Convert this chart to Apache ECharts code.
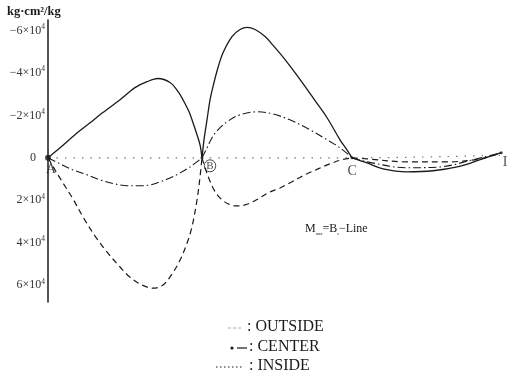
<!DOCTYPE html>
<html>
<head>
<meta charset="utf-8">
<script src="https://cdn.jsdelivr.net/npm/echarts@6/dist/echarts.min.js"></script>
<style>
  html, body { margin: 0; padding: 0; background: #fff; }
  #chart { width: 507px; height: 380px; }
</style>
</head>
<body>
<div id="chart"></div>
<script>
// Position along the member: A = 0, B = 1, C = 2, I = 3.
// Moment values in units of 10^4 kg·cm²/kg (negative plotted upward).

// Solid curve segments
const solidAB = [[0,0],[0.079,-0.47],[0.177,-1.09],[0.276,-1.65],[0.341,-2.03],[0.473,-2.74],[0.571,-3.31],[0.650,-3.59],[0.722,-3.74],[0.801,-3.55],[0.854,-3.12],[0.886,-2.74],[0.926,-2.17],[0.952,-1.65],[0.978,-1.09],[0.998,-0.61],[1.011,0]];
const solidBC = [[1.011,0],[1.024,-0.85],[1.044,-1.80],[1.064,-2.74],[1.083,-3.36],[1.116,-4.26],[1.149,-4.96],[1.208,-5.72],[1.261,-6.05],[1.307,-6.15],[1.359,-6.05],[1.425,-5.72],[1.478,-5.30],[1.556,-4.63],[1.655,-3.69],[1.753,-2.70],[1.832,-1.89],[1.917,-0.85],[1.957,-0.43],[1.996,0]];
const solidCI = [[1.996,0],[2.095,0.24],[2.200,0.52],[2.357,0.66],[2.528,0.61],[2.686,0.43],[2.837,0.09],[2.975,-0.24]];

// Dash-dot curve segments
const dashDotAB = [[0,0],[0.079,0.28],[0.164,0.57],[0.256,0.80],[0.341,1.04],[0.440,1.23],[0.519,1.32],[0.604,1.32],[0.670,1.28],[0.735,1.13],[0.801,0.95],[0.867,0.71],[0.932,0.43],[1.011,0]];
const dashDotBC = [[1.011,0],[1.044,-0.47],[1.077,-0.95],[1.116,-1.32],[1.175,-1.70],[1.261,-2.03],[1.372,-2.17],[1.471,-2.08],[1.602,-1.75],[1.720,-1.32],[1.832,-0.85],[1.917,-0.47],[1.996,0]];
const dashDotCI = [[1.996,0],[2.095,0.19],[2.357,0.47],[2.574,0.43],[2.791,0.09],[2.975,-0.24]];

// Dashed curve segments
const dashedAB = [[0,0],[0.046,0.57],[0.098,1.18],[0.164,1.94],[0.230,2.79],[0.309,3.69],[0.387,4.44],[0.473,5.15],[0.538,5.63],[0.617,6.00],[0.689,6.15],[0.755,6.00],[0.814,5.48],[0.867,4.82],[0.913,4.02],[0.945,3.26],[0.978,2.00],[0.998,0.90],[1.011,0]];
const dashedBC = [[1.011,0],[1.031,0.47],[1.057,0.99],[1.090,1.51],[1.129,1.89],[1.182,2.17],[1.234,2.27],[1.294,2.22],[1.366,1.99],[1.445,1.65],[1.523,1.42],[1.602,1.13],[1.687,0.80],[1.773,0.52],[1.852,0.28],[1.930,0.09],[1.996,0]];
const dashedCI = [[1.996,0],[2.095,0.05],[2.357,0.19],[2.620,0.19],[2.837,0.05],[2.975,-0.24]];

// Dotted (INSIDE) line
const dottedLine = [[0,0],[1.011,0],[1.996,0],[2.975,-0.12]];

// Joint points and their labels
const joints = [[0,0,'A'],[1.011,0,'B'],[1.996,0,'C'],[2.975,-0.24,'I']];

// Axis tick values
const yTicks = [-6,-4,-2,0,2,4,6];

const SERIF = "'Liberation Serif', 'DejaVu Serif', serif";
const INK = '#1a1a1a';

function lineSeries(data, type, width, color) {
  return {
    type: 'line', data: data, symbol: 'none', smooth: 0.35, silent: true,
    lineStyle: { color: color || INK, width: width, type: type, cap: 'butt' }
  };
}

// label offsets (px) from each joint
const jointLabelOffset = { A: [3, 12], B: [8, 8], C: [0, 14], I: [4, 10] };

const series = [
  lineSeries(dottedLine, [1.5, 7], 1.2, '#777'),
  lineSeries(solidAB, 'solid', 1.3),
  lineSeries(solidBC, 'solid', 1.3),
  lineSeries(solidCI, 'solid', 1.3),
  lineSeries(dashDotAB, [8, 3, 1.5, 3], 1.1),
  lineSeries(dashDotBC, [8, 3, 1.5, 3], 1.1),
  lineSeries(dashDotCI, [8, 3, 1.5, 3], 1.1),
  lineSeries(dashedAB, [6, 4], 1.2),
  lineSeries(dashedBC, [6, 4], 1.2),
  lineSeries(dashedCI, [6, 4], 1.2),
  {
    type: 'scatter', silent: true,
    data: joints.map(j => ({ value: [j[0], j[1]], name: j[2] })),
    symbolSize: (v, p) => p.name === 'A' ? 6 : 3,
    itemStyle: { color: INK },
    label: {
      show: true, fontFamily: SERIF, fontSize: 14, color: INK,
      formatter: p => p.name === 'B' ? '{c|B}' : p.name,
      position: 'inside',
      rich: { c: { fontFamily: SERIF, fontSize: 11, color: INK, borderColor: INK, borderWidth: 1, borderRadius: 7, padding: [1, 2, 0, 2] } }
    },
    labelLayout: p => {
      const name = joints[p.dataIndex][2];
      const o = jointLabelOffset[name];
      return { x: p.rect.x + p.rect.width / 2 + o[0], y: p.rect.y + p.rect.height / 2 + o[1], align: 'center', verticalAlign: 'middle' };
    }
  }
];

const option = {
  backgroundColor: '#fff',
  animation: false,
  grid: { left: 48, right: 2, top: 20, bottom: 78 },
  xAxis: { type: 'value', min: 0, max: 3, show: false },
  yAxis: {
    type: 'value', inverse: true, min: -6.5, max: 6.8,
    axisLine: { show: true, onZero: false, lineStyle: { color: INK, width: 1.5 } },
    axisTick: { show: false },
    splitLine: { show: false },
    axisLabel: {
      customValues: yTicks, margin: 3, color: '#333',
      formatter: v => v === 0 ? '{z|0}' : '{n|' + (v < 0 ? '−' : '') + Math.abs(v) + '×10}{s|4}',
      rich: {
        n: { fontFamily: SERIF, fontSize: 12, color: '#333', lineHeight: 15 },
        z: { fontFamily: SERIF, fontSize: 12, color: '#333', padding: [0, 9, 0, 0] },
        s: { fontFamily: SERIF, fontSize: 7.5, color: '#333', verticalAlign: 'top', lineHeight: 15, padding: [0, 0, 6, 0] }
      }
    }
  },
  series: series,
  graphic: [
    { type: 'text', left: 7, top: 5, style: { text: 'kg·cm²/kg', font: 'bold 12.5px ' + SERIF, fill: INK } },
    {
      type: 'text', left: 305, top: 223,
      style: {
        text: '{m|M}{sub|max}{m|=B}{sub|s}{m|−}{u|L}{m|ine}',
        rich: {
          m: { fontFamily: SERIF, fontSize: 12, fill: INK },
          u: { fontFamily: SERIF, fontSize: 12, fill: INK },
          sub: { fontFamily: SERIF, fontSize: 4, fill: INK, verticalAlign: 'bottom', padding: [10, 0, 0, 0] }
        }
      }
    },
    // Key
    { type: 'line', shape: { x1: 228, y1: 328, x2: 243, y2: 328 }, style: { stroke: '#aaa', lineWidth: 1, lineDash: [3, 2] } },
    { type: 'text', left: 247, top: 319, style: { text: ': OUTSIDE', font: '16px ' + SERIF, fill: INK } },
    { type: 'circle', shape: { cx: 232, cy: 348, r: 1.6 }, style: { fill: INK } },
    { type: 'line', shape: { x1: 237, y1: 348, x2: 247, y2: 348 }, style: { stroke: INK, lineWidth: 1.2 } },
    { type: 'text', left: 249, top: 339, style: { text: ': CENTER', font: '16px ' + SERIF, fill: INK } },
    { type: 'line', shape: { x1: 216, y1: 367, x2: 244, y2: 367 }, style: { stroke: INK, lineWidth: 1.2, lineDash: [1.5, 2.5] } },
    { type: 'text', left: 249, top: 358, style: { text: ': INSIDE', font: '16px ' + SERIF, fill: INK } }
  ]
};

const chart = echarts.init(document.getElementById('chart'), null, { renderer: 'canvas' });
chart.setOption(option);
</script>
</body>
</html>
